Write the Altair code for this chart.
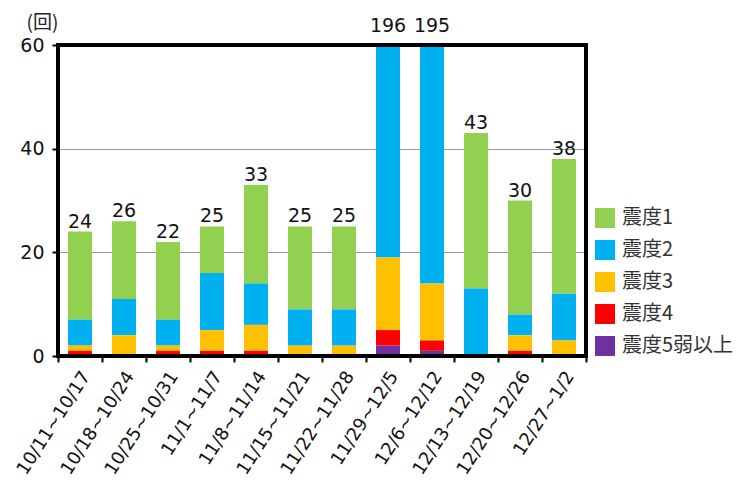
import altair as alt
import pandas as pd

weeks = ["10/11~10/17", "10/18~10/24", "10/25~10/31", "11/1~11/7", "11/8~11/14",
         "11/15~11/21", "11/22~11/28", "11/29~12/5", "12/6~12/12", "12/13~12/19",
         "12/20~12/26", "12/27~1/2"]
levels = ["震度1", "震度2", "震度3", "震度4", "震度5弱以上"]
colors = ["#92D050", "#00B0F0", "#FFC000", "#FF0000", "#7030A0"]

shindo1 = [17, 15, 15, 9, 19, 16, 16, 0, 0, 30, 22, 26]
shindo2 = [5, 7, 5, 11, 8, 7, 7, 177, 181, 13, 4, 9]
shindo3 = [1, 4, 1, 4, 5, 2, 2, 14, 11, 0, 3, 3]
shindo4 = [1, 0, 1, 1, 1, 0, 0, 3, 2, 0, 1, 0]
shindo5 = [0, 0, 0, 0, 0, 0, 0, 2, 1, 0, 0, 0]
totals = [24, 26, 22, 25, 33, 25, 25, 196, 195, 43, 30, 38]

series = [shindo1, shindo2, shindo3, shindo4, shindo5]
rows = []
for li, (lvl, vals) in enumerate(zip(levels, series)):
    for w, v in zip(weeks, vals):
        rows.append({"week": w, "level": lvl, "count": v, "stackorder": len(levels) - 1 - li})
df = pd.DataFrame(rows)
tot = pd.DataFrame({"week": weeks, "total": totals})

W, H = 528, 311
NUM_FONT = "DejaVu Sans"
JP_FONT = "Noto Sans CJK JP"

x_enc = alt.X("week:N", sort=weeks, title=None,
              scale=alt.Scale(paddingInner=0, paddingOuter=0),
              axis=alt.Axis(tickBand="extent", labelAngle=-57, labelFontSize=18,
                            labelFont=NUM_FONT, labelColor="#111", domain=False,
                            tickColor="black", tickWidth=2, tickSize=6,
                            labelPadding=11, labelOffset=6, labelOverlap=False))

bars = alt.Chart(df).mark_bar(size=24, clip=True).encode(
    x=x_enc,
    y=alt.Y("count:Q", stack="zero",
            scale=alt.Scale(domain=[0, 60], nice=False),
            axis=alt.Axis(values=[0, 20, 40, 60], labelFontSize=19, labelFont=NUM_FONT,
                          labelColor="#111", domain=False, tickColor="black",
                          tickWidth=2, tickSize=6, labelPadding=8,
                          grid=True, gridColor="#999999", gridWidth=1,
                          title="(回)", titleAngle=0, titleX=-16, titleY=-23,
                          titleAlign="center", titleBaseline="middle",
                          titleFont=JP_FONT, titleFontSize=19, titleFontWeight="normal",
                          titleColor="#222")),
    color=alt.Color("level:N", scale=alt.Scale(domain=levels, range=colors),
                    legend=alt.Legend(title=None, orient="none", legendX=537, legendY=163,
                                      symbolType="square", symbolSize=400,
                                      symbolStrokeWidth=0, labelFontSize=20,
                                      labelFont=JP_FONT, labelColor="#333",
                                      rowPadding=12, labelOffset=7, padding=0)),
    order=alt.Order("stackorder:Q"),
)

labels = alt.Chart(tot).transform_calculate(
    ty="min(datum.total, 60) + (datum.total > 60 ? 1.75 : 0)"
).mark_text(dy=-4, baseline="alphabetic", fontSize=19, font=NUM_FONT, color="#111").encode(
    x=alt.X("week:N", sort=weeks),
    y=alt.Y("ty:Q"),
    text=alt.Text("total:Q"),
)

frame = alt.Chart(tot).mark_rect(fill=None, stroke="black", strokeWidth=3).encode(
    x=alt.value(0), x2=alt.value(W), y=alt.value(0), y2=alt.value(H)
)

chart = alt.layer(bars, labels, frame).properties(
    width=W, height=H,
    autosize=alt.AutoSizeParams(type="none"),
    padding={"left": 50, "top": 37, "right": 157, "bottom": 132},
    background="white",
).configure_view(stroke=None)

chart.save("out.html", embed_options={"renderer": "svg", "actions": False})
